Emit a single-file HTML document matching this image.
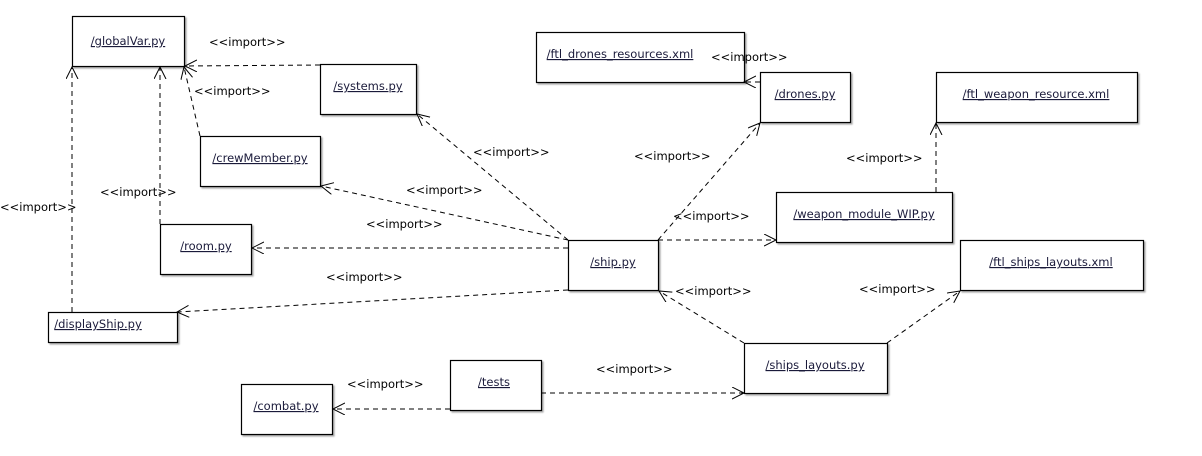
<!DOCTYPE html>
<html><head><meta charset="utf-8"><style>
html,body{margin:0;padding:0;background:#fff;}
svg{display:block;}
text{font-family:"DejaVu Sans","Liberation Sans",sans-serif;font-size:11.5px;fill:#000;}
.n{text-decoration:underline;fill:#1a1a3a;}
</style></head><body>
<svg width="1202" height="456" viewBox="0 0 1202 456" xmlns="http://www.w3.org/2000/svg">
<defs>
<filter id="sh" x="-5%" y="-5%" width="115%" height="120%"><feDropShadow dx="1.5" dy="1.5" stdDeviation="0.8" flood-color="#000" flood-opacity="0.35"/></filter>
<marker id="a" markerWidth="14" markerHeight="14" refX="12" refY="6" orient="auto" markerUnits="userSpaceOnUse"><path d="M0,0 L12,6 L0,12" fill="none" stroke="#000" stroke-width="1"/></marker>
</defs>
<g fill="#fff" stroke="#000" stroke-width="1.2" filter="url(#sh)">
<rect x="72.5" y="16.5" width="112" height="50"/>
<rect x="320.5" y="64.5" width="96" height="50"/>
<rect x="200.5" y="136.5" width="120" height="50"/>
<rect x="160.5" y="224.5" width="91" height="50"/>
<rect x="48.5" y="312.5" width="129" height="30"/>
<rect x="568.5" y="240.5" width="90" height="50"/>
<rect x="536.5" y="32.5" width="208" height="50"/>
<rect x="760.5" y="72.5" width="90" height="50"/>
<rect x="936.5" y="72.5" width="201" height="50"/>
<rect x="776.5" y="192.5" width="176" height="50"/>
<rect x="960.5" y="240.5" width="183" height="50"/>
<rect x="744.5" y="343.5" width="143" height="50"/>
<rect x="450.5" y="360.5" width="91" height="50"/>
<rect x="241.5" y="384.5" width="91" height="50"/>
</g>
<g stroke="#000" stroke-width="1" stroke-dasharray="5,4" fill="none" marker-end="url(#a)">
<line x1="320" y1="65" x2="185" y2="66"/>
<line x1="200" y1="136" x2="184" y2="67"/>
<line x1="160" y1="224" x2="160" y2="67"/>
<line x1="72" y1="312" x2="72" y2="67"/>
<line x1="568" y1="240" x2="417" y2="114"/>
<line x1="568" y1="240" x2="321" y2="186"/>
<line x1="568" y1="248" x2="252" y2="248"/>
<line x1="568" y1="290" x2="177" y2="312"/>
<line x1="658" y1="240" x2="760" y2="123"/>
<line x1="658" y1="240" x2="776" y2="240"/>
<line x1="936" y1="192" x2="936" y2="123"/>
<line x1="760" y1="82" x2="744" y2="82"/>
<line x1="744" y1="343" x2="659" y2="291"/>
<line x1="887" y1="343" x2="960" y2="291"/>
<line x1="541" y1="393" x2="744" y2="393"/>
<line x1="450" y1="409" x2="333" y2="409"/>
</g>
<g text-anchor="middle">
<text class="n" x="128" y="45">/globalVar.py</text>
<text class="n" x="368" y="90">/systems.py</text>
<text class="n" x="260" y="162">/crewMember.py</text>
<text class="n" x="206" y="250">/room.py</text>
<text class="n" x="98" y="328">/displayShip.py</text>
<text class="n" x="613" y="266">/ship.py</text>
<text class="n" x="620" y="58">/ftl_drones_resources.xml</text>
<text class="n" x="805" y="98">/drones.py</text>
<text class="n" x="1036" y="98">/ftl_weapon_resource.xml</text>
<text class="n" x="864" y="218">/weapon_module_WIP.py</text>
<text class="n" x="1051" y="266">/ftl_ships_layouts.xml</text>
<text class="n" x="815" y="369">/ships_layouts.py</text>
<text class="n" x="494" y="386">/tests</text>
<text class="n" x="286" y="410">/combat.py</text>
</g>
<g>
<text x="209" y="46">&lt;&lt;import&gt;&gt;</text>
<text x="194" y="95">&lt;&lt;import&gt;&gt;</text>
<text x="100" y="196">&lt;&lt;import&gt;&gt;</text>
<text x="0" y="211">&lt;&lt;import&gt;&gt;</text>
<text x="473" y="156">&lt;&lt;import&gt;&gt;</text>
<text x="406" y="194">&lt;&lt;import&gt;&gt;</text>
<text x="366" y="228">&lt;&lt;import&gt;&gt;</text>
<text x="326" y="281">&lt;&lt;import&gt;&gt;</text>
<text x="634" y="160">&lt;&lt;import&gt;&gt;</text>
<text x="673" y="220">&lt;&lt;import&gt;&gt;</text>
<text x="711" y="61">&lt;&lt;import&gt;&gt;</text>
<text x="846" y="162">&lt;&lt;import&gt;&gt;</text>
<text x="675" y="295">&lt;&lt;import&gt;&gt;</text>
<text x="859" y="293">&lt;&lt;import&gt;&gt;</text>
<text x="596" y="373">&lt;&lt;import&gt;&gt;</text>
<text x="347" y="388">&lt;&lt;import&gt;&gt;</text>
</g>
</svg>
</body></html>
